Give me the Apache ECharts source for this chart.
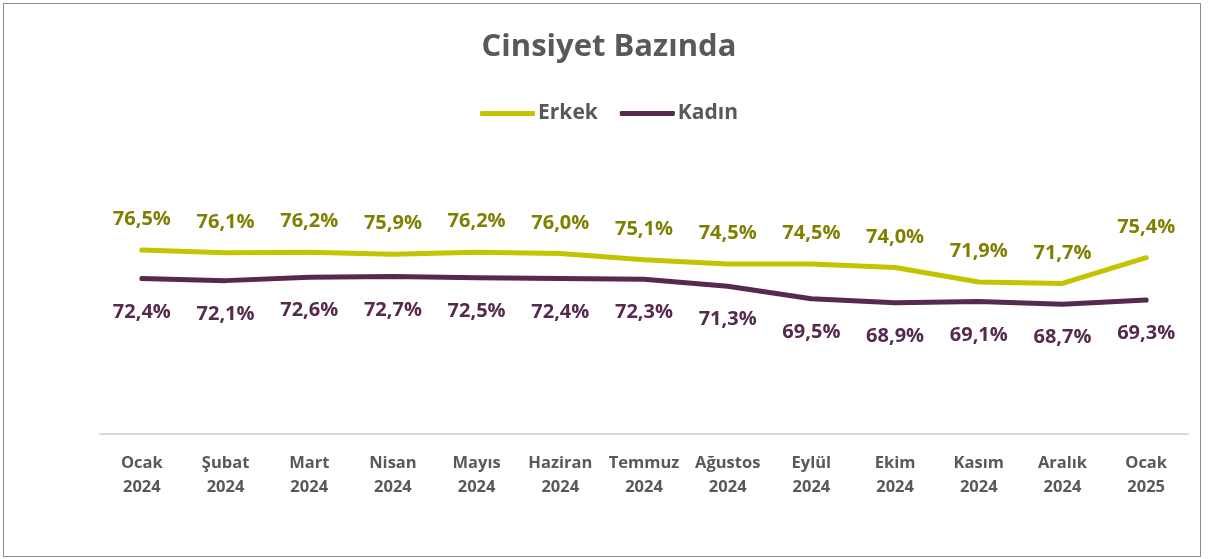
<!DOCTYPE html>
<html>
<head>
<meta charset="utf-8">
<script src="https://cdn.jsdelivr.net/npm/echarts@6/dist/echarts.min.js"></script>
<style>
  html, body { margin: 0; padding: 0; background: #fff; }
  #frame { position: absolute; left: 3px; top: 3px; width: 1196px; height: 552px; border: 1px solid #8c8c8c; }
  #chart { position: absolute; left: -4px; top: -4px; width: 1218px; height: 559px; }
</style>
</head>
<body>
<div id="frame"><div id="chart"></div></div>
<script>
var months = ['Ocak\n2024', 'Şubat\n2024', 'Mart\n2024', 'Nisan\n2024', 'Mayıs\n2024', 'Haziran\n2024', 'Temmuz\n2024',
  'Ağustos\n2024', 'Eylül\n2024', 'Ekim\n2024', 'Kasım\n2024', 'Aralık\n2024', 'Ocak\n2025'];
var erkek = [76.5, 76.1, 76.2, 75.9, 76.2, 76.0, 75.1, 74.5, 74.5, 74.0, 71.9, 71.7, 75.4];
var kadin = [72.4, 72.1, 72.6, 72.7, 72.5, 72.4, 72.3, 71.3, 69.5, 68.9, 69.1, 68.7, 69.3];

var fontName = '"Open Sans", "Noto Sans", sans-serif';

var pct = function (p) {
  return Number(p.value).toFixed(1).replace('.', ',') + '%';
};

var chart = echarts.init(document.getElementById('chart'));
chart.setOption({
  animation: false,
  title: {
    text: 'Cinsiyet Bazında',
    left: 'center',
    top: 27,
    textStyle: { fontFamily: fontName, fontSize: 31, fontWeight: 'bold', color: '#595959' }
  },
  legend: {
    data: ['Erkek', 'Kadın'],
    top: 98,
    left: 'center',
    itemWidth: 55,
    itemHeight: 5,
    itemGap: 22,
    icon: 'roundRect',
    textStyle: { fontFamily: fontName, fontSize: 21, fontWeight: 'bold', color: '#595959', padding: [0, 0, 0, -2] }
  },
  grid: { left: 100, right: 30, top: 87, bottom: 125 },
  xAxis: {
    type: 'category',
    data: months,
    boundaryGap: true,
    axisLine: { lineStyle: { color: '#d9d9d9', width: 2 } },
    axisTick: { show: false },
    axisLabel: {
      fontFamily: fontName, fontSize: 16.5, fontWeight: 'bold', color: '#595959',
      lineHeight: 24, margin: 17, interval: 0
    }
  },
  yAxis: { type: 'value', min: 50, max: 100, show: false, splitLine: { show: false } },
  series: [
    {
      name: 'Erkek',
      type: 'line',
      data: erkek,
      symbol: 'circle',
      symbolSize: 3,
      showSymbol: true,
      itemStyle: { color: '#c3c300', borderWidth: 0 },
      lineStyle: { width: 5, color: '#c3c300', cap: 'round', join: 'round' },
      label: {
        show: true, position: 'top', distance: 19, formatter: pct,
        fontFamily: fontName, fontSize: 20, fontWeight: 'bold', color: '#7f7f00'
      }
    },
    {
      name: 'Kadın',
      type: 'line',
      data: kadin,
      symbol: 'circle',
      symbolSize: 3,
      showSymbol: true,
      itemStyle: { color: '#562a4e', borderWidth: 0 },
      lineStyle: { width: 5, color: '#562a4e', cap: 'round', join: 'round' },
      label: {
        show: true, position: 'bottom', distance: 22, formatter: pct,
        fontFamily: fontName, fontSize: 20, fontWeight: 'bold', color: '#562a4e'
      }
    }
  ]
});
</script>
</body>
</html>
